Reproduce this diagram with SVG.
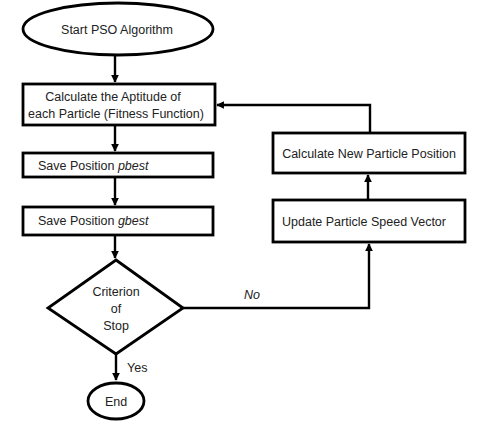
<svg xmlns="http://www.w3.org/2000/svg" width="480" height="421" viewBox="0 0 480 421">
<defs>
<marker id="ah" viewBox="0 0 10 10" refX="9" refY="5" markerWidth="3.2" markerHeight="3.2" orient="auto" markerUnits="strokeWidth">
<path d="M0,0 L10,5 L0,10 z" fill="#000"/>
</marker>
<style>
.s{fill:#fff;stroke:#000;stroke-width:2.8}
.t{font-family:"Liberation Sans",Arial,sans-serif;font-size:12.5px;fill:#222}
.c{stroke:#000;stroke-width:2.4;fill:none}
</style>
</defs>
<rect width="480" height="421" fill="#fff"/>
<g id="connectors">
<path class="c" d="M115,55 V82" marker-end="url(#ah)"/>
<path class="c" d="M115,125 V151" marker-end="url(#ah)"/>
<path class="c" d="M115,177 V205" marker-end="url(#ah)"/>
<path class="c" d="M115,235 V258" marker-end="url(#ah)"/>
<path class="c" d="M116,354 V380" marker-end="url(#ah)"/>
<path class="c" d="M183,308 H369 V244" marker-end="url(#ah)"/>
<path class="c" d="M368,200 V175" marker-end="url(#ah)"/>
<path class="c" d="M370,133 V105 H217" marker-end="url(#ah)"/>
<text class="t" x="127" y="372">Yes</text>
<text class="t" x="244" y="299" font-style="italic">No</text>
</g>
<g id="start">
<ellipse class="s" cx="118" cy="29" rx="95" ry="26"/>
<text class="t" x="117" y="34" text-anchor="middle">Start PSO Algorithm</text>
</g>
<g id="fitness">
<rect class="s" x="23" y="84" width="192" height="41"/>
<text class="t" x="113" y="101" text-anchor="middle">Calculate the Aptitude of</text>
<text class="t" x="116" y="118" text-anchor="middle">each Particle (Fitness Function)</text>
</g>
<g id="pbest">
<rect class="s" x="23" y="153" width="190" height="24"/>
<text class="t" x="38" y="170">Save Position <tspan font-style="italic">pbest</tspan></text>
</g>
<g id="gbest">
<rect class="s" x="23" y="207" width="190" height="28"/>
<text class="t" x="38" y="225">Save Position <tspan font-style="italic">gbest</tspan></text>
</g>
<g id="criterion">
<polygon class="s" points="116,260 183,308 116,354 48,308"/>
<text class="t" x="116" y="296" text-anchor="middle">Criterion</text>
<text class="t" x="116" y="313" text-anchor="middle">of</text>
<text class="t" x="116" y="330" text-anchor="middle">Stop</text>
</g>
<g id="end">
<ellipse class="s" cx="116" cy="401" rx="28" ry="18"/>
<text class="t" x="116" y="406" text-anchor="middle">End</text>
</g>
<g id="newpos">
<rect class="s" x="273" y="133" width="192" height="40"/>
<text class="t" x="369" y="158" text-anchor="middle">Calculate New Particle Position</text>
</g>
<g id="speed">
<rect class="s" x="273" y="200" width="192" height="42"/>
<text class="t" x="282" y="226">Update Particle Speed Vector</text>
</g>
</svg>
